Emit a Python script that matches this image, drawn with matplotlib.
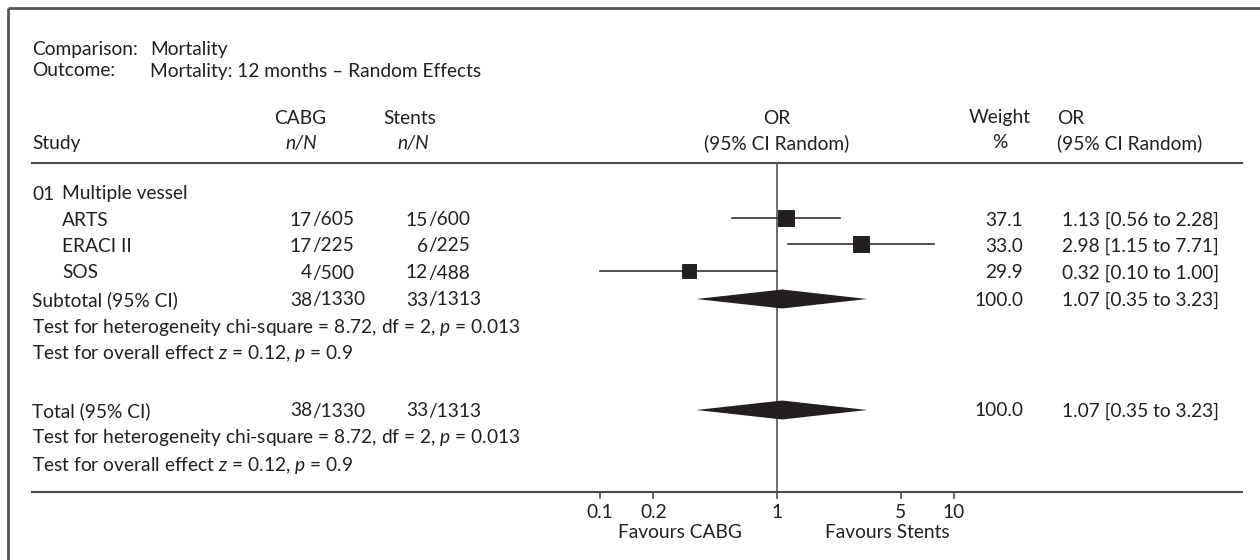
import matplotlib.pyplot as plt
import numpy as np

# individual trials
studies = ['ARTS', 'ERACI II', 'SOS']
cabg_n = [17, 17, 4]
cabg_N = [605, 225, 500]
stent_n = [15, 6, 12]
stent_N = [600, 225, 488]
odds = [1.13, 2.98, 0.32]
ci_low = [0.56, 1.15, 0.10]
ci_high = [2.28, 7.71, 1.00]
weights = [37.1, 33.0, 29.9]

# pooled random-effects estimate (subtotal and total are the same here)
pooled_counts = [38, 1330, 33, 1313]
pooled_or = 1.07
pooled_low = 0.35
pooled_high = 3.23
pooled_weight = 100.0
chi_sq, df, p_het = 8.72, 2, '0.013'
z_val, p_all = 0.12, '0.9'

tick_vals = [0.1, 0.2, 1, 5, 10]
tick_labels = ['0.1', '0.2', '1', '5', '10']

plt.rcParams['font.family'] = ['Lato', 'DejaVu Sans']
plt.rcParams['mathtext.fontset'] = 'custom'
plt.rcParams['mathtext.rm'] = 'Lato'
plt.rcParams['mathtext.it'] = 'Lato:italic'

ink = '#231f20'
rule = '#4a4a4a'
fs = 13.8

W, H = 1260, 560
fig = plt.figure(figsize=(W / 100, H / 100), dpi=100)
ax = fig.add_axes([0, 0, 1, 1])
ax.set_xlim(0, W)
ax.set_ylim(H, 0)
ax.axis('off')

# log axis for the forest marks: 1 sits at x=777px, one decade = 177px
x_one, decade = 777, 177
axf = fig.add_axes([0, 0, 1, 1])
axf.set_xscale('log')
axf.set_xlim(10 ** (-x_one / decade), 10 ** ((W - x_one) / decade))
axf.set_ylim(H, 0)
axf.axis('off')
axf.patch.set_alpha(0)


def txt(x, y, s, **kw):
    kw.setdefault('fontsize', fs)
    kw.setdefault('color', ink)
    kw.setdefault('va', 'center')
    ax.text(x, y, s, **kw)


def counts(y, n, N, slash_x):
    txt(slash_x, y, str(n), ha='right')
    txt(slash_x, y, '/' + str(N), ha='left')


left = 32

# frame (left and top edges)
ax.plot([8, 8], [8, H], color='#555555', lw=2, solid_capstyle='butt')
ax.plot([8, W], [8, 8], color='#555555', lw=2, solid_capstyle='butt')

# title block
txt(left, 50, 'Comparison:')
txt(150, 50, 'Mortality')
txt(left, 71, 'Outcome:')
txt(150, 71, 'Mortality: 12 months – Random Effects')

# column headers
txt(300, 118, 'CABG', ha='center')
txt(410, 118, 'Stents', ha='center')
txt(777, 118, 'OR', ha='center')
txt(1000, 118, 'Weight', ha='center')
txt(1057, 118, 'OR', ha='left')
txt(left, 143, 'Study')
txt(301, 143, 'n/N', ha='center', style='italic')
txt(413, 143, 'n/N', ha='center', style='italic')
txt(777, 143, '(95% CI Random)', ha='center')
txt(1000, 143, '%', ha='center')
txt(1057, 143, '(95% CI Random)', ha='left')
ax.plot([left, 1242], [163, 163], color=rule, lw=1.5)

cabg_slash, stent_slash = 312, 428
w_right, or_left = 1023, 1062

# group label and trial rows
txt(left, 194, '01')
txt(62, 194, 'Multiple vessel')
study_rows = [220, 246, 273]
for i, name in enumerate(studies):
    y = study_rows[i]
    txt(62, y, name)
    counts(y, cabg_n[i], cabg_N[i], cabg_slash)
    counts(y, stent_n[i], stent_N[i], stent_slash)
    txt(w_right, y, f'{weights[i]:.1f}', ha='right')
    txt(or_left, y, f'{odds[i]:.2f} [{ci_low[i]:.2f} to {ci_high[i]:.2f}]', ha='left')
    axf.plot([ci_low[i], ci_high[i]], [y - 2, y - 2], color='#333333', lw=1.2)
    side = (12 + 0.1 * weights[i]) * 0.72
    axf.scatter([odds[i]], [y - 2], marker='s', s=side ** 2, color=ink,
                edgecolor='#111111', linewidth=0.6, zorder=3)

het_line = f'Test for heterogeneity chi-square = {chi_sq:.2f}, df = {df}, $p$ = {p_het}'
eff_line = f'Test for overall effect $z$ = {z_val:.2f}, $p$ = {p_all}'


def pooled_block(y, label):
    txt(left, y, label)
    counts(y, pooled_counts[0], pooled_counts[1], cabg_slash)
    counts(y, pooled_counts[2], pooled_counts[3], stent_slash)
    txt(w_right, y, f'{pooled_weight:.1f}', ha='right')
    txt(or_left, y, f'{pooled_or:.2f} [{pooled_low:.2f} to {pooled_high:.2f}]', ha='left')
    yd = y - 1
    axf.fill([pooled_low, pooled_or, pooled_high, pooled_or],
             [yd, yd - 9.5, yd, yd + 9.5], color=ink, lw=0, zorder=3)
    txt(left, y + 27, het_line)
    txt(left, y + 54, eff_line)


pooled_block(300, 'Subtotal (95% CI)')
pooled_block(411, 'Total (95% CI)')

# line of no effect and the scale
axis_y = 492
axf.plot([1, 1], [163, axis_y], color='#555555', lw=1.2, zorder=1)
ax.plot([left, 1242], [axis_y, axis_y], color=rule, lw=1.5)
for v, lab in zip(tick_vals, tick_labels):
    axf.plot([v, v], [axis_y, axis_y + 6], color=rule, lw=1.2)
    axf.text(v, 513, lab, ha='center', va='center', fontsize=fs, color=ink)
txt(680, 532, 'Favours CABG', ha='center')
txt(887, 532, 'Favours Stents', ha='center')

fig.savefig('out.png', dpi=100, facecolor='white')
